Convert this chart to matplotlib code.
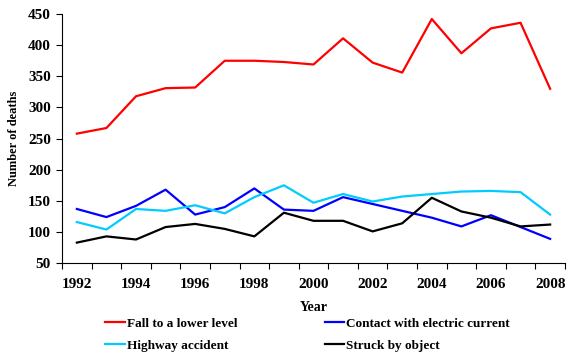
import numpy as np
import matplotlib.pyplot as plt

plt.rcParams['font.family'] = ['Liberation Serif', 'DejaVu Serif']
plt.rcParams['font.weight'] = 'bold'

years = list(range(1992, 2009))
fall = [258, 267, 318, 331, 332, 375, 375, 373, 369, 411, 372, 356, 442, 387, 427, 436, 330]
electric = [137, 124, 142, 168, 128, 140, 170, 136, 134, 156, 145, 134, 123, 109, 127, 108, 89]
highway = [116, 104, 137, 134, 143, 130, 156, 175, 147, 161, 149, 157, 161, 165, 166, 164, 128]
struck = [83, 93, 88, 108, 113, 105, 93, 131, 118, 118, 101, 114, 155, 133, 123, 109, 112]

fig = plt.figure(figsize=(5.8, 3.6), dpi=100)
ax = fig.add_axes([0.107, 0.269, 0.867, 0.692])

l1, = ax.plot(years, fall, color='#ff0000', lw=1.6, label='Fall to a lower level')
l2, = ax.plot(years, electric, color='#0000ff', lw=1.6, label='Contact with electric current')
l3, = ax.plot(years, highway, color='#00ccff', lw=1.6, label='Highway accident')
l4, = ax.plot(years, struck, color='#000000', lw=1.6, label='Struck by object')

ax.set_xlim(1991.5, 2008.5)
ax.set_ylim(50, 450)
ax.set_yticks(np.arange(50, 451, 50))
ax.tick_params(axis='y', direction='out', length=4, labelsize=11, pad=4)

# ticks on category boundaries, labels on every other category centre
ax.set_xticks(np.arange(1991.5, 2009, 1))
ax.set_xticklabels([])
ax.tick_params(axis='x', which='major', direction='out', length=4)
ax.set_xticks(years[::2], minor=True)
ax.set_xticklabels([str(y) for y in years[::2]], minor=True)
ax.tick_params(axis='x', which='minor', length=0, labelsize=11, pad=11)

for s in ['top', 'right']:
    ax.spines[s].set_visible(False)

ax.set_xlabel('Year', fontsize=10, fontweight='bold', labelpad=7)
ax.set_ylabel('Number of deaths', fontsize=9, fontweight='bold', labelpad=6)

fig.legend([l1, l3, l2, l4], [l1.get_label(), l3.get_label(), l2.get_label(), l4.get_label()],
           ncol=2, frameon=False, loc='lower left', bbox_to_anchor=(0.161, -0.01),
           fontsize=9.5, handlelength=1.5, handletextpad=0.15, columnspacing=6.6,
           labelspacing=0.75)

fig.savefig('out.png', dpi=100)
